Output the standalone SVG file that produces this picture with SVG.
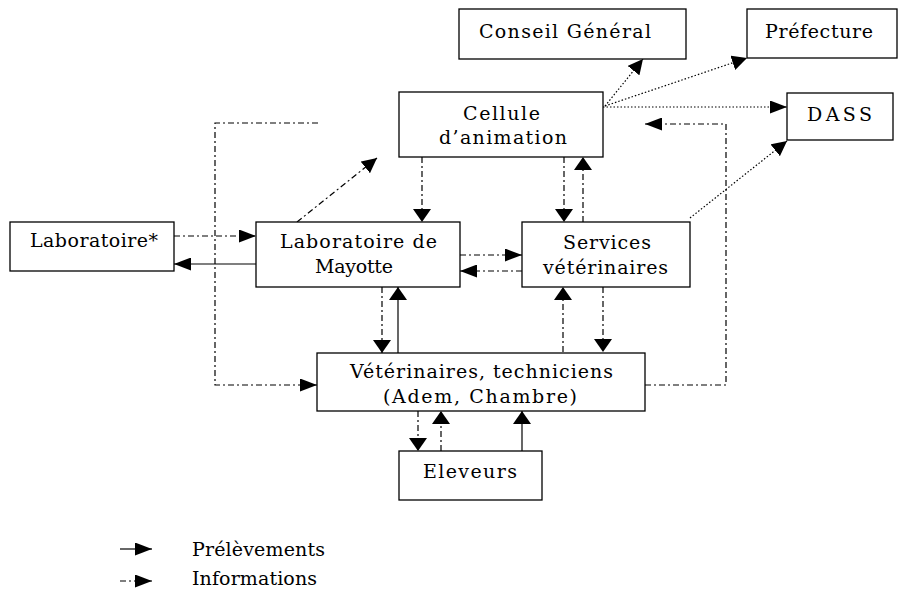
<svg xmlns="http://www.w3.org/2000/svg" width="899" height="589" viewBox="0 0 899 589">
<style>
.box{fill:#fff;stroke:#000;stroke-width:1.3}
.t{font-family:"DejaVu Serif","Liberation Serif",serif;font-size:19px;fill:#000}
.c{fill:none;stroke:#000;stroke-width:1.2}
.dd{stroke-dasharray:6,3,2,3}
.dot{stroke-dasharray:1.5,2}
.h{marker-end:url(#ah)}
.v{marker-end:url(#av)}
.d{marker-end:url(#ad)}
</style>
<defs>
<marker id="ah" markerUnits="userSpaceOnUse" markerWidth="17" markerHeight="13" refX="17" refY="6.5" orient="auto"><path d="M0,0 L17,6.5 L0,13 z" fill="#000"/></marker>
<marker id="av" markerUnits="userSpaceOnUse" markerWidth="13" markerHeight="18" refX="13" refY="9" orient="auto"><path d="M0,0 L13,9 L0,18 z" fill="#000"/></marker>
<marker id="ad" markerUnits="userSpaceOnUse" markerWidth="15" markerHeight="15" refX="15" refY="7.5" orient="auto"><path d="M0,0 L15,7.5 L0,15 z" fill="#000"/></marker>
</defs>
<rect width="899" height="589" fill="#fff"/>
<g id="connectors">
<path class="c dot d" d="M605,106 L643,59"/>
<path class="c dot d" d="M605,106 L747,58"/>
<path class="c dot h" d="M603,107 L787,107"/>
<path class="c dot d" d="M690,218 L787,141"/>
<path class="c dd h" d="M645,385 L726,385 L726,124 L645,124"/>
<path class="c dd h" d="M318,123 L215,123 L215,385 L317,385"/>
<path class="c dd d" d="M297,222 L377,158"/>
<path class="c dd v" d="M422,157 L422,222"/>
<path class="c dd v" d="M564,157 L564,222"/>
<path class="c dd v" d="M583,222 L583,157"/>
<path class="c dd h" d="M174,236 L256,236"/>
<path class="c h" d="M256,264 L174,264"/>
<path class="c dd h" d="M460,255 L522,255"/>
<path class="c dd h" d="M522,271 L460,271"/>
<path class="c dd v" d="M382,287 L382,353"/>
<path class="c v" d="M398,353 L398,287"/>
<path class="c dd v" d="M603,287 L603,352"/>
<path class="c dd v" d="M563,352 L563,287"/>
<path class="c dd v" d="M418,411 L418,451"/>
<path class="c dd v" d="M441,451 L441,411"/>
<path class="c v" d="M522,451 L522,411"/>
<path class="c h" d="M120,549 L152,549"/>
<path class="c dd h" d="M120,581 L152,581"/>
</g>
<g id="conseil"><rect class="box" x="459" y="9" width="227" height="50"/><text class="t" x="479" y="38" textLength="172">Conseil Général</text></g>
<g id="prefecture"><rect class="box" x="747" y="9" width="150" height="49"/><text class="t" x="765" y="38" textLength="108">Préfecture</text></g>
<g id="cellule"><rect class="box" x="399" y="92" width="204" height="65"/><text class="t" x="463" y="120" textLength="77">Cellule</text><text class="t" x="439" y="144" textLength="128">d’animation</text></g>
<g id="dass"><rect class="box" x="787" y="93" width="106" height="47"/><text class="t" x="807" y="121" textLength="65">DASS</text></g>
<g id="labo"><rect class="box" x="10" y="222" width="164" height="49"/><text class="t" x="30" y="247" textLength="128">Laboratoire*</text></g>
<g id="labmayotte"><rect class="box" x="256" y="222" width="204" height="65"/><text class="t" x="280" y="248" textLength="157">Laboratoire de</text><text class="t" x="315" y="273" textLength="78">Mayotte</text></g>
<g id="services"><rect class="box" x="522" y="222" width="168" height="65"/><text class="t" x="563" y="249" textLength="88">Services</text><text class="t" x="543" y="274" textLength="125">vétérinaires</text></g>
<g id="veterinaires"><rect class="box" x="317" y="353" width="328" height="58"/><text class="t" x="350" y="378" textLength="263">Vétérinaires, techniciens</text><text class="t" x="383" y="403" textLength="194">(Adem, Chambre)</text></g>
<g id="eleveurs"><rect class="box" x="399" y="451" width="143" height="49"/><text class="t" x="423" y="478" textLength="94">Eleveurs</text></g>
<g id="legend"><text class="t" x="192" y="556" textLength="133">Prélèvements</text><text class="t" x="192" y="585" textLength="125">Informations</text></g>
</svg>
